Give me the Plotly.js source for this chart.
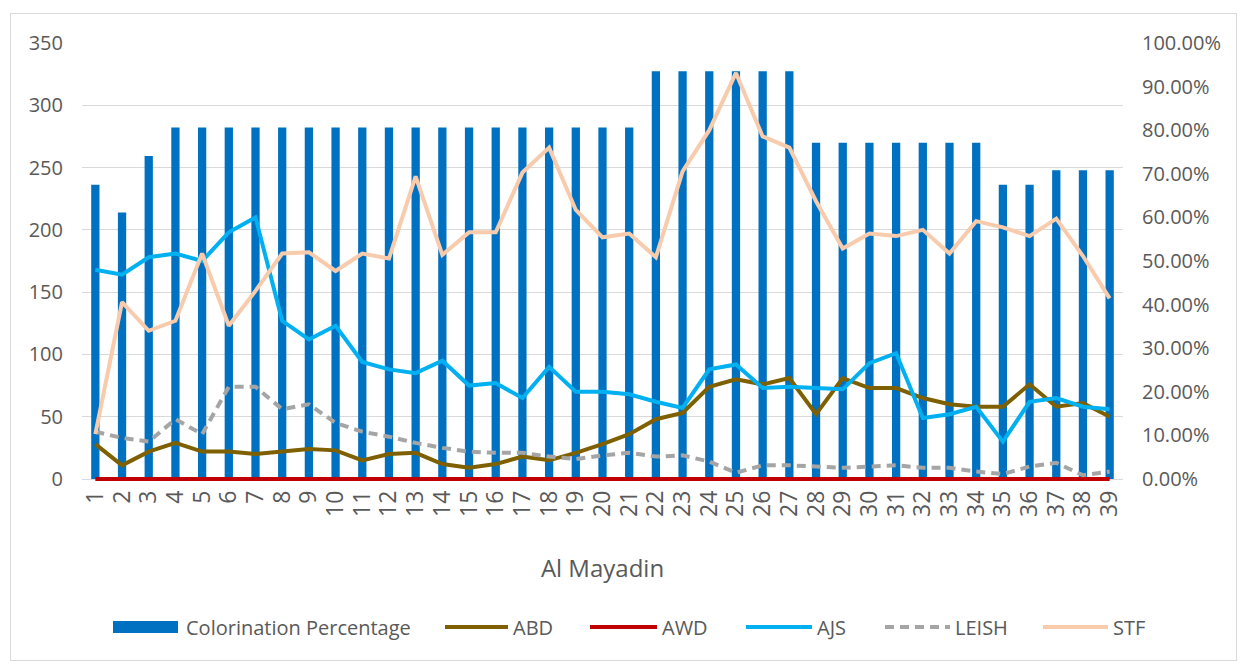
<!DOCTYPE html>
<html>
<head>
<meta charset="utf-8">
<script src="https://cdn.plot.ly/plotly-3.0.1.min.js"></script>
<style>
  html, body { margin: 0; padding: 0; background: #ffffff; }
  #frame { position: absolute; left: 10px; top: 13px; width: 1227px; height: 648px; border: 1px solid #d9d9d9; box-sizing: border-box; }
  #chart { position: absolute; left: 0; top: 0; width: 1240px; height: 664px; }
</style>
</head>
<body>
<div id="frame"></div>
<div id="chart"></div>
<script>
const categories = ['1','2','3','4','5','6','7','8','9','10','11','12','13','14','15','16','17','18','19','20',
  '21','22','23','24','25','26','27','28','29','30','31','32','33','34','35','36','37','38','39'];

const colorination = [0.675,0.611,0.741,0.806,0.806,0.806,0.806,0.806,0.806,0.806,
  0.806,0.806,0.806,0.806,0.806,0.806,0.806,0.806,0.806,0.806,
  0.806,0.935,0.935,0.935,0.935,0.935,0.935,0.771,0.771,0.771,
  0.771,0.771,0.771,0.771,0.675,0.675,0.708,0.708,0.708];

const abd = [28,11,22,29,22,22,20,22,24,23,15,20,21,12,9,12,18,15,21,28,
  36,48,53,74,80,76,81,52,81,73,73,65,60,58,58,76,58,61,50];

const awd = [0,0,0,0,0,0,0,0,0,0,0,0,0,0,0,0,0,0,0,0,
  0,0,0,0,0,0,0,0,0,0,0,0,0,0,0,0,0,0,0];

const ajs = [168,164,178,181,175,198,210,127,112,123,94,88,85,95,75,77,65,90,70,70,
  68,62,57,88,92,73,74,73,72,93,101,49,52,58,30,62,65,58,56];

const leish = [38,33,30,48,36,74,74,56,60,45,38,34,29,25,22,21,21,18,16,19,
  21,18,19,14,5,11,11,10,9,10,11,9,9,6,4,10,13,3,6];

const stf = [36,142,119,127,181,123,151,181,182,167,181,177,243,180,198,198,246,266,216,194,
  197,178,247,280,326,275,266,223,185,197,195,200,181,207,202,195,209,179,145];

const fontFamily = '"Open Sans", "Noto Sans", sans-serif';
const textColor = '#595959';

const traces = [
  { type: 'bar', name: 'Colorination Percentage', x: categories, y: colorination, yaxis: 'y',
    marker: { color: '#0070C0' }, width: 0.31 },
  { type: 'scatter', mode: 'lines', name: 'ABD', x: categories, y: abd, yaxis: 'y2',
    line: { color: '#7F6000', width: 4 } },
  { type: 'scatter', mode: 'lines', name: 'AWD', x: categories, y: awd, yaxis: 'y2',
    line: { color: '#C00000', width: 4 } },
  { type: 'scatter', mode: 'lines', name: 'AJS', x: categories, y: ajs, yaxis: 'y2',
    line: { color: '#00B0F0', width: 4 } },
  { type: 'scatter', mode: 'lines', name: 'LEISH', x: categories, y: leish, yaxis: 'y2',
    line: { color: '#A5A5A5', width: 4, dash: '9px,6px' } },
  { type: 'scatter', mode: 'lines', name: 'STF', x: categories, y: stf, yaxis: 'y2',
    line: { color: '#F8CBAD', width: 4 } }
];

// axis ranges: a small pad below zero keeps the zero-level line fully visible
const countMax = 350, countPad = 4;

// plot-area geometry (pixels) used to place the hand-drawn legend
const M = { l: 82, r: 117, t: 43, b: 180 };
const W = 1240, H = 664;
const plotW = W - M.l - M.r, plotH = H - M.t - M.b;
const px = v => (v - M.l) / plotW;
const py = v => (H - M.b - v) / plotH;

// legend layout: swatch start/end and text start (pixels), row centre
const legendRow = 627;
const legendSlots = [
  { x0: 113, x1: 178, tx: 184 },
  { x0: 445, x1: 508, tx: 511 },
  { x0: 590, x1: 657, tx: 660 },
  { x0: 746, x1: 812, tx: 815 },
  { x0: 885, x1: 950, tx: 953 },
  { x0: 1043, x1: 1108, tx: 1111 }
];

const shapes = [];
const annotations = [];
traces.forEach((t, i) => {
  const s = legendSlots[i];
  if (t.type === 'bar') {
    shapes.push({ type: 'rect', xref: 'paper', yref: 'paper',
      x0: px(s.x0), x1: px(s.x1), y0: py(legendRow + 6), y1: py(legendRow - 6),
      fillcolor: t.marker.color, line: { width: 0 } });
  } else {
    shapes.push({ type: 'line', xref: 'paper', yref: 'paper',
      x0: px(s.x0), x1: px(s.x1), y0: py(legendRow), y1: py(legendRow),
      line: { color: t.line.color, width: 4, dash: t.line.dash || 'solid' } });
  }
  annotations.push({ xref: 'paper', yref: 'paper', x: px(s.tx), y: py(legendRow),
    xanchor: 'left', yanchor: 'middle', showarrow: false, text: t.name,
    font: { size: 20, color: textColor } });
});

const layout = {
  width: W, height: H,
  margin: M,
  paper_bgcolor: 'rgba(0,0,0,0)',
  plot_bgcolor: 'rgba(0,0,0,0)',
  font: { family: fontFamily, color: textColor, size: 20 },
  showlegend: false,
  xaxis: {
    type: 'category',
    tickmode: 'linear', dtick: 1,
    tickangle: -90,
    tickfont: { size: 23, color: textColor },
    ticks: '',
    showgrid: false,
    showline: false,
    zeroline: false,
    automargin: false,
    ticklabelstandoff: 1,
    title: { text: 'Al Mayadin', font: { size: 24, color: textColor }, standoff: 44 }
  },
  yaxis: {
    side: 'right',
    range: [-countPad / countMax, 1],
    tick0: 0,
    dtick: 0.1,
    tickformat: '.2%',
    showgrid: false,
    zeroline: false,
    ticks: '',
    automargin: false,
    ticklabelstandoff: 18,
    tickfont: { size: 20, color: textColor }
  },
  yaxis2: {
    overlaying: 'y',
    side: 'left',
    range: [-countPad, countMax],
    tick0: 0,
    dtick: 50,
    showgrid: true,
    gridcolor: '#d9d9d9',
    gridwidth: 1,
    zeroline: false,
    ticks: '',
    automargin: false,
    ticklabelstandoff: 18,
    tickfont: { size: 20, color: textColor }
  },
  shapes: shapes,
  annotations: annotations
};

Plotly.newPlot('chart', traces, layout, { displayModeBar: false, staticPlot: true });
</script>
</body>
</html>
